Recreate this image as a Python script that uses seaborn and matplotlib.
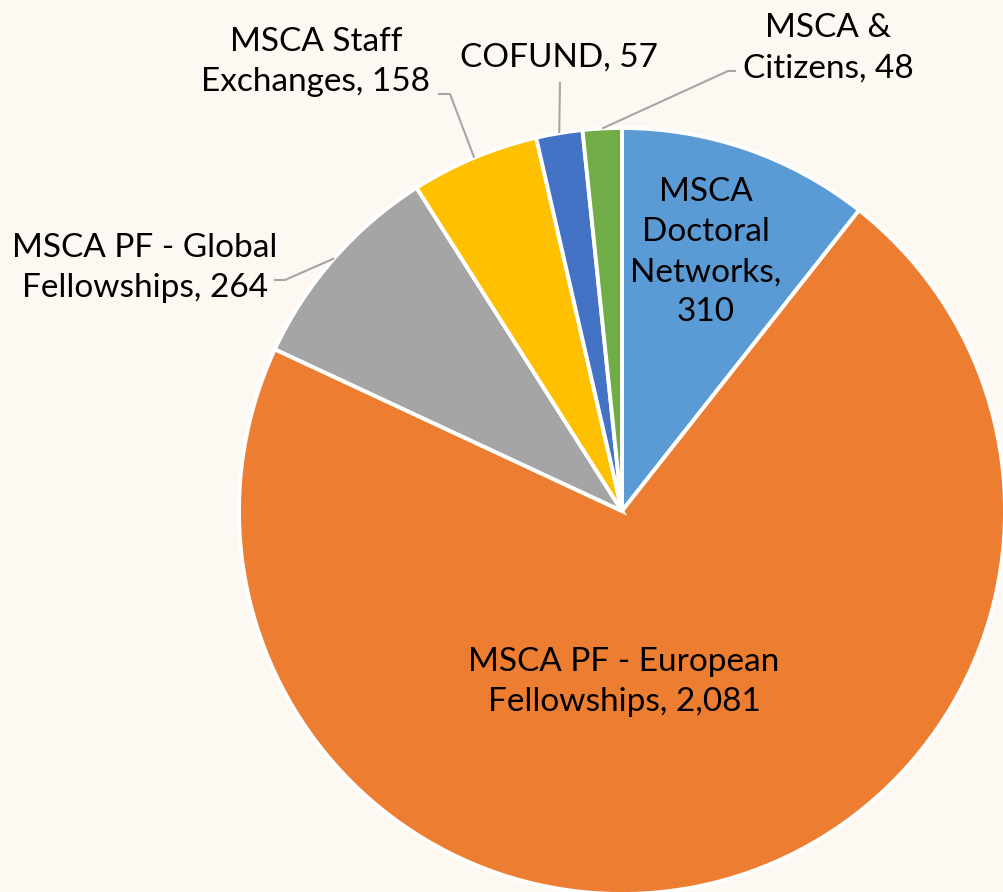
import matplotlib
matplotlib.use("Agg")
import matplotlib.pyplot as plt
import seaborn as sns
import numpy as np

categories = ["MSCA Doctoral Networks", "MSCA PF - European Fellowships",
              "MSCA PF - Global Fellowships", "MSCA Staff Exchanges",
              "COFUND", "MSCA & Citizens"]
values = [310, 2081, 264, 158, 57, 48]
label_texts = ["MSCA\nDoctoral\nNetworks,\n310", "MSCA PF - European\nFellowships, 2,081",
               "MSCA PF - Global\nFellowships, 264", "MSCA Staff\nExchanges, 158",
               "COFUND, 57", "MSCA &\nCitizens, 48"]
colors = ["#5B9BD5", "#ED7D31", "#A5A5A5", "#FFC000", "#4472C4", "#70AD47"]

BG = "#FEF8F3"
sns.set_theme(style="white")
plt.rcParams["font.family"] = ["Lato", "DejaVu Sans"]

W, H = 1004, 892
fig = plt.figure(figsize=(W / 100, H / 100), dpi=100, facecolor=BG)
ax = fig.add_axes([0, 0, 1, 1])
ax.set_facecolor(BG)

def Y(py):
    return H - py

cx, cy, R = 622, 511, 383
ax.pie(values, colors=colors, startangle=90, counterclock=False,
       center=(cx, Y(cy)), radius=R, frame=True,
       wedgeprops=dict(edgecolor="white", linewidth=2.8))
ax.set_xlim(0, W)
ax.set_ylim(0, H)
ax.set_aspect("equal")
ax.axis("off")

fs = 24
ls = 1.42
# inside labels
ax.text(706, Y(252), label_texts[0], ha="center", va="center", fontsize=fs,
        linespacing=ls, color="black")
ax.text(624, Y(682), label_texts[1], ha="center", va="center", fontsize=fs,
        linespacing=ls, color="black")

# outside labels: (label center, elbow point, line end near label)
outside = {
    2: ((145, 268), (285, 280), (274, 280)),
    3: ((316, 62), (450, 94), (438, 94)),
    4: ((559, 58), (560, 82), (560, 82)),
    5: ((828, 48), (728, 71), (736, 71)),
}
total = sum(values)
cum = np.cumsum([0] + values)
for i, (lab_pos, elbow, end) in outside.items():
    mid = (cum[i] + values[i] / 2) / total
    ang = np.deg2rad(90 - 360 * mid)
    px = cx + R * np.cos(ang)
    py = cy - R * np.sin(ang)
    ax.plot([px, elbow[0], end[0]], [Y(py), Y(elbow[1]), Y(end[1])],
            color="#A6A6A6", linewidth=1.5, solid_capstyle="butt")
    ax.text(lab_pos[0], Y(lab_pos[1]), label_texts[i], ha="center", va="center",
            fontsize=fs, linespacing=ls, color="black")

fig.savefig("out.png", dpi=100, facecolor=BG)
